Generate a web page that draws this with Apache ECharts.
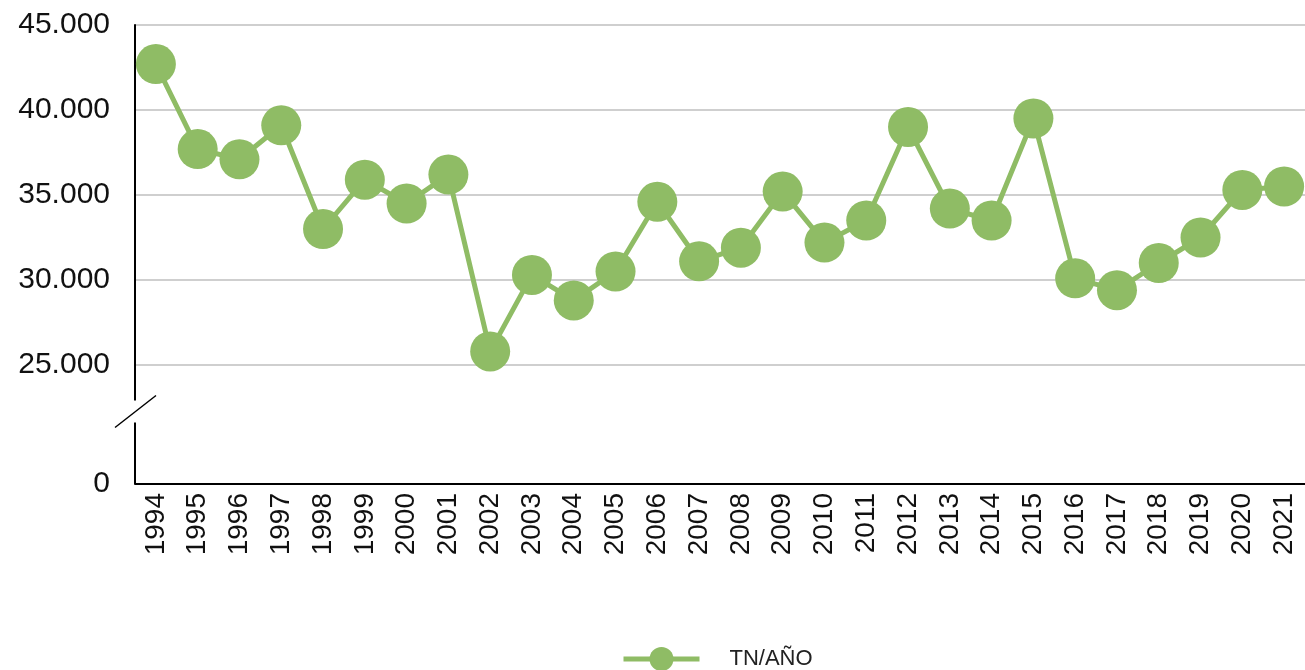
<!DOCTYPE html>
<html>
<head>
<meta charset="utf-8">
<script src="https://cdn.jsdelivr.net/npm/echarts@6/dist/echarts.min.js"></script>
<style>
  html, body { margin: 0; padding: 0; background: #fff; }
  #chart { width: 1305px; height: 670px; }
</style>
</head>
<body>
<div id="chart"></div>
<script>
const years = ['1994', '1995', '1996', '1997', '1998', '1999', '2000', '2001', '2002', '2003',
  '2004', '2005', '2006', '2007', '2008', '2009', '2010', '2011', '2012', '2013',
  '2014', '2015', '2016', '2017', '2018', '2019', '2020', '2021']
const tnAno = [42700, 37700, 37100, 39100, 33000, 35900, 34500, 36200, 25800, 30300,
  28800, 30500, 34600, 31100, 31900, 35200, 32200, 33500, 39000, 34200,
  33500, 39500, 30100, 29400, 31000, 32500, 35300, 35500]

const green = '#8fbc65'
const font = 'Liberation Sans'

const chart = echarts.init(document.getElementById('chart'))

const fmt = v => v === 0 ? '0' : (v / 1000).toFixed(3)

chart.setOption({
  animation: false,
  grid: { left: 135, right: 0, top: 25, bottom: 186 },
  legend: {
    top: 642,
    left: 616,
    itemWidth: 76,
    itemHeight: 30,
    lineStyle: { width: 5 },
    textStyle: { fontFamily: font, fontSize: 22, color: '#222', padding: [0, 0, 0, 25] },
    data: ['TN/AÑO']
  },
  xAxis: {
    type: 'category',
    data: years,
    boundaryGap: true,
    axisLine: { lineStyle: { color: '#000', width: 2 } },
    axisTick: { show: false },
    axisLabel: { rotate: 90, fontFamily: font, fontSize: 28, color: '#111', margin: 9, interval: 0 }
  },
  yAxis: {
    type: 'value',
    min: 0,
    max: 45000,
    interval: 5000,
    breaks: [{ start: 0, end: 25000, gap: 7000 }],
    breakArea: { show: false },
    axisLine: { show: true, lineStyle: { color: '#000', width: 2 } },
    axisTick: { show: false },
    splitLine: { lineStyle: { color: '#bfbfbf', width: 1.5 } },
    axisLabel: {
      fontFamily: font, fontSize: 30, color: '#111', margin: 25,
      formatter: v => fmt(v)
    }
  },
  series: [{
    name: 'TN/AÑO',
    type: 'line',
    data: tnAno,
    symbol: 'circle',
    symbolSize: 40,
    itemStyle: { color: green },
    lineStyle: { color: green, width: 5 }
  }]
})

// axis line through the break, the 25.000 grid line and the break mark
const yLow = chart.convertToPixel({ yAxisIndex: 0 }, 0)
const yHigh = chart.convertToPixel({ yAxisIndex: 0 }, 25000)
const yMid = (yLow + yHigh) / 2 - 13
chart.setOption({
  graphic: [
    { type: 'line', shape: { x1: 135, y1: yHigh, x2: 1305, y2: yHigh }, style: { stroke: '#bfbfbf', lineWidth: 1.5 }, z: 1 },
    { type: 'line', shape: { x1: 135, y1: yHigh - 1, x2: 135, y2: yMid - 11 }, style: { stroke: '#000', lineWidth: 2 }, z: 100 },
    { type: 'line', shape: { x1: 135, y1: yMid + 11, x2: 135, y2: yLow }, style: { stroke: '#000', lineWidth: 2 }, z: 100 },
    { type: 'line', shape: { x1: 115, y1: yMid + 16, x2: 156, y2: yMid - 16 }, style: { stroke: '#000', lineWidth: 1.5 }, z: 101 }
  ]
})
</script>
</body>
</html>
